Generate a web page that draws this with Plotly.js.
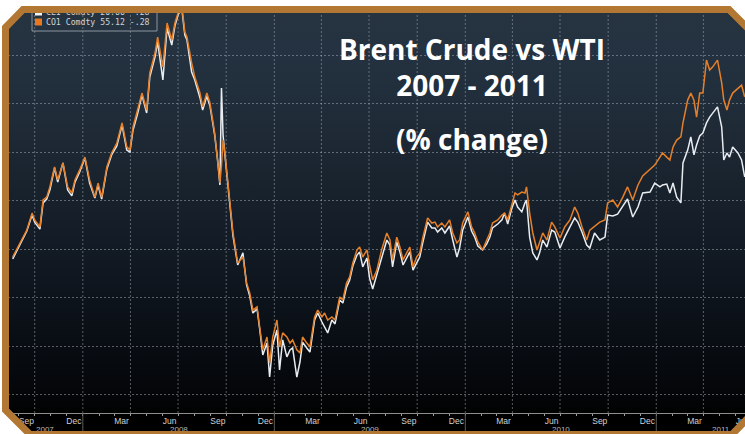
<!DOCTYPE html>
<html><head><meta charset="utf-8">
<script src="https://cdn.plot.ly/plotly-3.0.1.min.js"></script>
<style>
html,body{margin:0;padding:0;width:745px;height:434px;overflow:hidden;background:#fff;}
#wrap{position:relative;width:745px;height:434px;overflow:hidden;}
#chart{position:absolute;left:0;top:0;width:800px;height:434px;
 background:linear-gradient(to bottom,#27343f 0px,#243241 50px,#1f2b37 120px,#18222d 190px,#121a24 250px,#0c1219 310px,#070b10 360px,#030405 405px,#000 413px,#000 434px);}
#frame{position:absolute;left:0;top:0;pointer-events:none;}
</style></head>
<body>
<div id="wrap"><div id="chart"></div>
<svg id="frame" width="745" height="434" viewBox="0 0 745 434">
<path fill="#ffffff" fill-rule="evenodd" d="M-20,-20 H800 V460 H-20 Z M5.5,27.5 L23,9.5 L729,9.5 L749,29.5 L749,417 L732,434.5 L30,434.5 L5.5,410 Z"/>
<path fill="none" stroke="#b27732" stroke-width="7" stroke-linejoin="miter" d="M5.5,27.5 L23,9.5 L729,9.5 L749,29.5 L749,417 L732,434.5 L30,434.5 L5.5,410 Z"/>
</svg>
</div>
<script>
// ---- data (% change) ----
const dates = [
'2007-08-20','2007-09-03','2007-09-16','2007-09-26','2007-10-01','2007-10-11','2007-10-17','2007-10-24','2007-10-30','2007-11-08',
'2007-11-14','2007-11-24','2007-12-03','2007-12-11','2007-12-17','2007-12-26','2008-01-05','2008-01-14','2008-01-24','2008-01-30',
'2008-02-06','2008-02-16','2008-02-25','2008-03-06','2008-03-16','2008-03-25','2008-03-31','2008-04-06','2008-04-15','2008-04-23',
'2008-05-02','2008-05-08','2008-05-18','2008-05-23','2008-06-02','2008-06-10','2008-06-19','2008-06-25','2008-07-01','2008-07-08',
'2008-07-14','2008-07-18','2008-07-27','2008-08-02','2008-08-12','2008-08-17','2008-08-25','2008-08-31','2008-09-09','2008-09-15',
'2008-09-19','2008-09-22','2008-09-25','2008-09-28','2008-10-02','2008-10-14','2008-10-23','2008-11-02','2008-11-09','2008-11-15',
'2008-11-21','2008-11-29','2008-12-04','2008-12-10','2008-12-18','2008-12-23','2008-12-29','2009-01-06','2009-01-11','2009-01-17',
'2009-01-25','2009-01-31','2009-02-05','2009-02-13','2009-02-19','2009-02-24','2009-03-04','2009-03-10','2009-03-19','2009-03-25',
'2009-04-02','2009-04-07','2009-04-13','2009-04-21','2009-04-27','2009-05-06','2009-05-12','2009-05-19','2009-05-25','2009-05-31',
'2009-06-08','2009-06-13','2009-06-19','2009-06-27','2009-07-02','2009-07-08','2009-07-16','2009-07-25','2009-08-04','2009-08-10',
'2009-08-15','2009-08-23','2009-08-29','2009-09-04','2009-09-11','2009-09-17','2009-09-23','2009-09-30','2009-10-06','2009-10-12',
'2009-10-21','2009-10-29','2009-11-04','2009-11-09','2009-11-17','2009-11-23','2009-12-02','2009-12-08','2009-12-16','2009-12-21',
'2009-12-27','2010-01-06','2010-01-13','2010-01-19','2010-01-25','2010-02-03','2010-02-11','2010-02-17','2010-02-22','2010-03-04',
'2010-03-12','2010-03-17','2010-03-23','2010-03-31','2010-04-06','2010-04-11','2010-04-19','2010-04-25','2010-04-28','2010-05-04',
'2010-05-10','2010-05-18','2010-05-23','2010-05-29','2010-06-06','2010-06-15','2010-06-21','2010-07-01','2010-07-10','2010-07-20',
'2010-07-29','2010-08-04','2010-08-12','2010-08-21','2010-08-27','2010-09-05','2010-09-15','2010-09-25','2010-09-30','2010-10-10',
'2010-10-19','2010-10-29','2010-11-07','2010-11-17','2010-11-27','2010-12-06','2010-12-20','2010-12-29','2011-01-08','2011-01-13',
'2011-01-21','2011-01-27','2011-02-02','2011-02-09','2011-02-17','2011-02-21','2011-03-02','2011-03-08','2011-03-14','2011-03-19',
'2011-03-25','2011-03-31','2011-04-07','2011-04-13','2011-04-19','2011-04-28','2011-05-06','2011-05-10','2011-05-16','2011-05-21',
'2011-05-27','2011-06-06','2011-06-13','2011-06-19'];

// CO1 Comdty (Brent) - orange
const brent = [
-3.3,2.5,7.8,14.8,12.0,9.1,20.2,21.4,25.6,33.8,
28.5,35.5,25.6,23.1,28.5,32.6,37.9,28.5,21.4,27.2,
21.4,33.8,39.6,43.7,52.0,42.1,40.8,50.3,57.3,64.3,
57.3,72.6,80.8,87.4,75.1,93.2,86.2,93.2,97.3,100.6,
89.5,87.4,76.7,70.9,64.3,58.6,64.3,60.2,47.8,36.7,
27.2,34.6,44.9,40.8,32.6,6.6,-5.8,-3.3,-14.0,-18.1,
-25.2,-23.9,-32.2,-41.6,-36.3,-47.0,-36.3,-29.3,-40.4,-34.6,
-36.3,-38.8,-37.5,-41.6,-42.9,-36.3,-38.8,-40.4,-28.0,-25.2,
-28.0,-26.4,-29.3,-28.0,-29.3,-19.8,-21.0,-14.0,-11.5,-5.8,
-0.4,0.8,-3.3,-0.4,-6.6,-12.8,-8.7,-0.4,6.6,3.7,
-4.5,4.9,0.8,-4.5,-1.6,0.8,-7.4,-3.3,-1.6,4.9,
12.8,10.7,11.1,9.1,10.7,9.1,12.0,6.6,2.5,3.7,
10.7,15.3,9.1,6.6,2.9,-0.4,3.7,6.6,10.7,12.0,
14.0,14.8,12.0,19.0,23.1,22.3,23.5,23.1,25.6,14.8,
6.6,-0.4,2.5,6.6,3.7,11.1,9.1,4.5,9.1,12.0,
17.3,14.8,9.1,3.7,7.8,9.5,11.1,12.0,19.0,20.2,
17.3,21.4,25.6,20.2,26.4,30.1,32.6,34.6,37.9,39.6,
37.9,36.7,42.1,44.9,46.2,52.0,61.4,64.3,61.4,54.4,
64.3,64.3,77.9,73.8,75.1,77.9,68.5,61.4,57.3,61.4,
64.3,66.4,67.6,62.7];

// CL1 Comdty (WTI) - white
const wti = [
-4.1,1.6,7.4,14.0,11.1,8.2,19.0,20.6,24.3,33.4,
27.6,35.5,24.3,21.9,27.6,31.8,37.5,27.2,21.0,26.4,
20.6,33.0,38.8,42.5,51.1,40.8,40.0,49.1,56.1,63.5,
56.1,70.9,79.2,85.4,69.7,91.1,84.1,92.0,96.5,99.4,
88.2,86.2,73.0,69.7,62.3,57.3,63.1,59.0,47.0,35.9,
26.4,66.4,47.0,40.0,31.8,5.4,-6.6,-1.6,-14.8,-19.4,
-26.4,-24.7,-33.0,-43.7,-38.8,-52.8,-39.6,-33.4,-49.9,-37.5,
-44.5,-41.6,-40.8,-52.8,-46.6,-38.4,-40.8,-42.5,-29.3,-26.4,
-30.1,-32.2,-34.6,-29.3,-30.9,-21.0,-22.3,-15.7,-12.8,-7.0,
-2.5,-1.2,-7.4,-3.7,-12.0,-16.5,-10.7,-4.5,3.7,1.6,
-7.4,2.9,-1.2,-6.6,-3.7,-1.2,-8.7,-5.4,-3.3,2.9,
11.1,8.7,8.7,7.0,8.7,6.6,9.5,3.7,-3.3,0.4,
7.8,13.2,7.4,4.9,1.2,-0.4,2.1,4.9,8.7,10.3,
12.0,14.8,10.3,16.9,20.2,17.3,15.3,19.0,20.2,4.9,
-1.6,-4.5,-1.6,3.7,0.8,7.8,7.0,0.4,4.9,9.1,
12.8,11.1,7.0,1.6,0.4,6.6,3.7,4.9,14.0,13.6,
14.4,17.7,20.6,13.2,17.3,23.1,23.5,27.2,25.6,26.4,
26.8,23.1,27.2,21.4,19.0,35.5,40.8,46.2,38.8,42.9,
46.6,47.8,52.0,54.4,56.1,58.6,50.3,36.7,39.6,37.9,
42.1,39.6,36.7,29.7];

const seriesNames = ['CL1 Comdty','CO1 Comdty'];
const legendLast = ['20.66','55.12'];
const legendChg = ['-.28','-.28'];

const monthTickDates = ['2007-09-15','2007-12-15','2008-03-15','2008-06-15','2008-09-15','2008-12-15',
 '2009-03-15','2009-06-15','2009-09-15','2009-12-15','2010-03-15','2010-06-15','2010-09-15','2010-12-15',
 '2011-03-15','2011-06-15'];
const monthTickText = ['Sep','Dec','Mar','Jun','Sep','Dec','Mar','Jun','Sep','Dec','Mar','Jun','Sep','Dec','Mar','Jun'];
const yearLabels = ['2007','2008','2009','2010','2011'];
const yGrid = [-60,-40,-20,0,20,40,60,80];

const titleText = 'Brent Crude vs WTI<br>2007 - 2011';
const subTitle = '(% change)';

// ---- layout geometry ----
const W = 800, H = 434, ML = 8, MR = 15, MT = 12, MB = 21;
const PW = W - ML - MR, PH = H - MT - MB;
const xRange = ['2007-08-11','2011-09-04'];
const yRange = [-67.63, 97.73];
const px = x => (x - ML) / PW;        // page pixel -> paper x
const py = y => (H - MB - y) / PH;     // page pixel -> paper y

const iso = d => d.toISOString().slice(0,10);
const r0 = Date.parse(xRange[0]), r1 = Date.parse(xRange[1]);

const monthStarts = [], quarterStarts = [], yearStarts = [];
for (let y = 2007; y <= 2011; y++) {
  for (let m = 0; m < 12; m++) {
    const t = Date.UTC(y, m, 1);
    if (t <= r0 || t >= r1) continue;
    monthStarts.push(iso(new Date(t)));
    if (m % 3 === 0) quarterStarts.push(iso(new Date(t)));
    if (m === 0) yearStarts.push(iso(new Date(t)));
  }
}

const gridColor = 'rgba(165,175,188,0.5)';
const shapes = [];
quarterStarts.forEach(d => shapes.push({type:'line', xref:'x', yref:'paper', x0:d, x1:d, y0:0, y1:1,
  line:{color:gridColor, width:1, dash:'2px,2px'}, layer:'below'}));
yearStarts.forEach(d => shapes.push({type:'line', xref:'x', yref:'paper', x0:d, x1:d, y0:py(434), y1:0,
  line:{color:'#5c5c5c', width:1}, layer:'above'}));
// legend box and swatches
shapes.push({type:'rect', xref:'paper', yref:'paper', x0:px(32), x1:px(157), y0:py(31), y1:py(1),
  line:{color:'#8b959e', width:1}, fillcolor:'rgba(0,0,0,0)', layer:'above'});
shapes.push({type:'rect', xref:'paper', yref:'paper', x0:px(35), x1:px(42), y0:py(15.5), y1:py(8.5),
  line:{width:0}, fillcolor:'#f0f2f4', layer:'above'});
shapes.push({type:'rect', xref:'paper', yref:'paper', x0:px(35), x1:px(42), y0:py(25.5), y1:py(18.5),
  line:{width:0}, fillcolor:'#e8771e', layer:'above'});

const annotations = [];
yearLabels.forEach(yl => {
  const a = Math.max(Date.UTC(+yl,0,1), r0), b = Math.min(Date.UTC(+yl+1,0,1), r1);
  annotations.push({xref:'x', yref:'paper', x: iso(new Date((a+b)/2)), y: py(430), text: yl, showarrow:false,
    xanchor:'center', yanchor:'middle', font:{family:'Liberation Sans, Arial, sans-serif', size:8, color:'#b9b9b9'}});
});
[12, 22].forEach((rowY, i) => {
  annotations.push({xref:'paper', yref:'paper', x:px(44), y:py(rowY), xanchor:'left', yanchor:'middle', showarrow:false,
    text: seriesNames[i] + ' ' + legendLast[i] + ' ' + legendChg[i],
    font:{family:'DejaVu Sans Mono, monospace', size:8.2, color:'#cfd4d8'}});
});
const titleFont = {family:'Open Sans, sans-serif', size:28, color:'#ffffff', weight:700};
annotations.push({xref:'paper', yref:'paper', x:px(472), y:py(139), xanchor:'center', yanchor:'middle', showarrow:false,
  text: subTitle, font:titleFont});

const traces = [
  {type:'scatter', mode:'lines', name:seriesNames[0], x:dates, y:wti, line:{color:'#e9edf1', width:1.5}},
  {type:'scatter', mode:'lines', name:seriesNames[1], x:dates, y:brent, line:{color:'#e5802a', width:1.5}}
];

const layout = {
  width:W, height:H, margin:{l:ML, r:MR, t:MT, b:MB, pad:0},
  paper_bgcolor:'rgba(0,0,0,0)', plot_bgcolor:'rgba(0,0,0,0)',
  showlegend:false,
  title:{text:titleText, xref:'paper', x:px(472), xanchor:'center', yref:'container', y:1-60/434, yanchor:'top',
    font:titleFont},
  xaxis:{type:'date', range:xRange, showgrid:false, zeroline:false, showline:true, linecolor:'#8e8e8e', linewidth:1,
    tickmode:'array', tickvals:monthTickDates, ticktext:monthTickText, ticks:'',
    tickfont:{family:'Liberation Sans, Arial, sans-serif', size:8.5, color:'#d2d2d2'},
    minor:{tickmode:'array', tickvals:monthStarts, ticks:'outside', ticklen:2, tickcolor:'#9a9a9a', tickwidth:1, showgrid:false},
    fixedrange:true},
  yaxis:{range:yRange, tickmode:'array', tickvals:yGrid, showticklabels:false, ticks:'', showgrid:true,
    gridcolor:gridColor, griddash:'2px,2px', gridwidth:1, zeroline:false, showline:false, fixedrange:true},
  shapes: shapes,
  annotations: annotations
};

Plotly.newPlot('chart', traces, layout, {displayModeBar:false, staticPlot:true});
</script>
</body></html>
